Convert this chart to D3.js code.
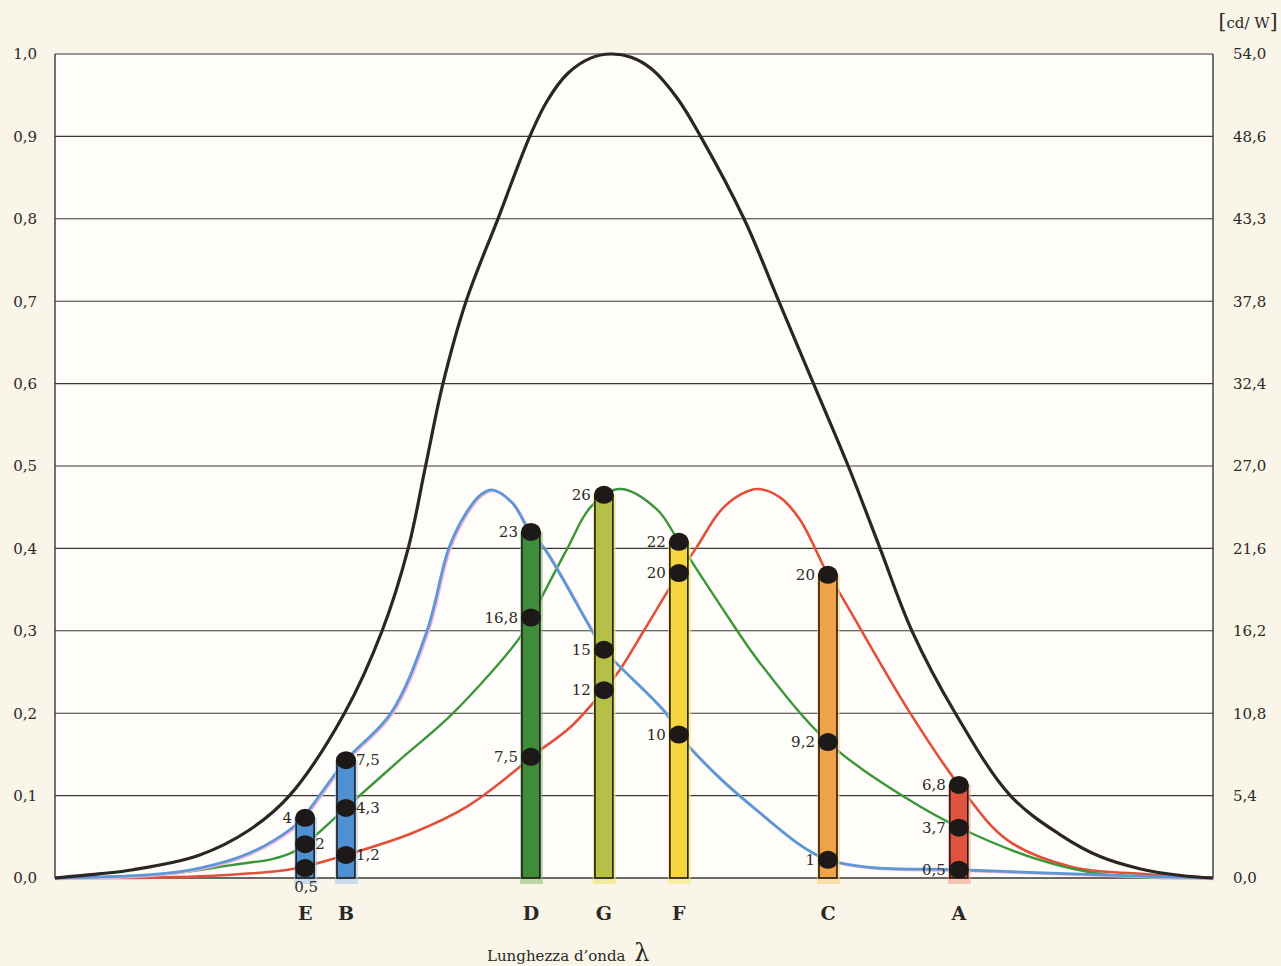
<!DOCTYPE html>
<html>
<head>
<meta charset="utf-8">
<script src="https://cdn.jsdelivr.net/npm/d3@7"></script>
<style>
    body { margin: 0; background: #f9f5e8; }
    svg { display: block; }
</style>
</head>
<body>
<div id="chart"></div>
<script>
// curves: wavelength (nm, approx) and relative value read from the plate
const blackL = [380, 395, 407, 430, 447, 461, 480, 493, 502, 508, 514, 522, 533, 544, 550, 557, 565, 572, 579, 586, 595, 603, 618, 630, 642, 654, 665, 676, 691, 710, 727, 741, 755, 769, 780];
const blackV = [0, .005, .01, .028, .058, .10, .20, .30, .40, .50, .60, .70, .80, .90, .943, .976, .995, 1.0, .996, .982, .946, .90, .80, .70, .60, .50, .40, .30, .20, .10, .053, .026, .011, .003, 0];

const blueL = [380, 413, 430, 447, 462, 466, 480.5, 496, 508.5, 516, 522, 527, 531, 538, 544, 549, 565.5, 569.6, 591, 595.5, 610, 623.5, 635, 642, 647, 661.5, 692, 724, 758, 780];
const blueV = [0, .004, .012, .03, .061, .075, .143, .2, .3, .4, .443, .465, .471, .455, .42, .4, .3, .277, .2, .174, .12, .079, .046, .03, .022, .013, .01, .006, .002, 0];

const greenL = [380, 419, 441.5, 455, 462, 466.4, 480.5, 499, 517.5, 540.6, 544.4, 557, 565, 575, 588, 595.5, 604, 610, 623.5, 647, 674, 692.5, 720, 743, 780];
const greenV = [0, .005, .016, .023, .031, .041, .085, .143, .2, .292, .316, .4, .45, .472, .447, .408, .362, .33, .261, .165, .097, .061, .022, .004, 0];

const redL = [380, 430, 462, 480.5, 503.7, 522, 540.6, 544.4, 558, 569.6, 575, 583.4, 595.5, 601.4, 609.7, 616.6, 622.8, 630.4, 637.3, 647, 651, 674, 692.2, 709, 731.6, 755, 780];
const redV = [0, .002, .011, .028, .055, .086, .135, .147, .183, .228, .252, .30, .37, .40, .445, .465, .472, .462, .435, .368, .346, .208, .113, .046, .013, .005, 0];

// columns (lamps), their wavelength and the readings marked on them
const barNames = ['E', 'B', 'D', 'G', 'F', 'C', 'A'];
const barL = [466.4, 480.5, 544.4, 569.6, 595.5, 647.0, 692.2];
const dotValues = [
    [.073, .041, .012],
    [.143, .085, .028],
    [.42, .316, .147],
    [.465, .277, .228],
    [.408, .37, .174],
    [.368, .165, .022],
    [.113, .061, .01]
];
const dotLabels = [
    ['4', '2', '0,5'],
    ['7,5', '4,3', '1,2'],
    ['23', '16,8', '7,5'],
    ['26', '15', '12'],
    ['22', '20', '10'],
    ['20', '9,2', '1'],
    ['6,8', '3,7', '0,5']
];

// axis ticks
const leftTicks = [0, .1, .2, .3, .4, .5, .6, .7, .8, .9, 1.0];
const rightLabels = ['0,0', '5,4', '10,8', '16,2', '21,6', '27,0', '32,4', '37,8', '43,3', '48,6', '54,0'];

const svgWidth = 1281, svgHeight = 966;
const margin = { top: 54, right: 68, bottom: 88, left: 55 };
const width = svgWidth - margin.left - margin.right;
const height = svgHeight - margin.top - margin.bottom;
const serif = '"DejaVu Serif", "Liberation Serif", serif';

const svg = d3.select('#chart').append('svg')
    .attr('width', svgWidth)
    .attr('height', svgHeight);

const g = svg.append('g')
    .attr('transform', `translate(${margin.left}, ${margin.top})`);

const x = d3.scaleLinear().domain([380, 780]).range([0, width]);
const y = d3.scaleLinear().domain([0, 1]).range([height, 0]);

// plot background
g.append('rect')
    .attr('width', width)
    .attr('height', height)
    .attr('fill', '#fefdf9');

// horizontal rules
g.selectAll('.grid')
    .data(leftTicks)
    .enter().append('line')
    .attr('class', 'grid')
    .attr('x1', 0).attr('x2', width)
    .attr('y1', d => y(d)).attr('y2', d => y(d))
    .style('stroke', '#3a3735')
    .style('stroke-width', d => d === 0 ? 1.6 : 1.1);

// side frame
g.append('line').attr('x1', 0).attr('x2', 0).attr('y1', 0).attr('y2', height)
    .style('stroke', '#3a3735').style('stroke-width', 1.4);
g.append('line').attr('x1', width).attr('x2', width).attr('y1', 0).attr('y2', height)
    .style('stroke', '#3a3735').style('stroke-width', 1.4);

// left axis
const leftAxis = g.append('g')
    .call(d3.axisLeft(y).tickValues(leftTicks).tickSize(0).tickPadding(18)
        .tickFormat(d => d3.format('.1f')(d).replace('.', ',')));
leftAxis.select('.domain').remove();
leftAxis.selectAll('text')
    .style('font-family', serif).style('font-size', '15px').style('fill', '#2b2826');

// right axis in cd/W
const rightAxis = g.append('g')
    .attr('transform', `translate(${width}, 0)`)
    .call(d3.axisRight(y).tickValues(leftTicks).tickSize(0).tickPadding(20)
        .tickFormat((d, i) => rightLabels[i]));
rightAxis.select('.domain').remove();
rightAxis.selectAll('text')
    .style('font-family', serif).style('font-size', '15px').style('fill', '#2b2826');

const unit = svg.append('text')
    .attr('x', 1248).attr('y', 28)
    .attr('text-anchor', 'middle')
    .style('font-family', serif).style('font-size', '15px').style('fill', '#2b2826');
unit.append('tspan').style('font-size', '20px').text('[');
unit.append('tspan').text('cd/ W');
unit.append('tspan').style('font-size', '20px').text(']');

// curves
const line = d3.line()
    .x(d => x(d[0]))
    .y(d => y(d[1]))
    .curve(d3.curveCatmullRom.alpha(0.5));

const curves = [
    { l: redL, v: redV, color: '#e2503a', w: 2.6 },
    { l: greenL, v: greenV, color: '#3b963a', w: 2.4 },
    { l: blueL, v: blueV, color: '#5b98d6', w: 2.8, fringe: '#f2b2d6' },
    { l: blackL, v: blackV, color: '#2a2624', w: 3.2 }
];
curves.forEach(c => {
    const pts = c.l.map((l, i) => [l, c.v[i]]);
    if (c.fringe) {
        g.append('path').datum(pts)
            .attr('transform', 'translate(1.5, 1)')
            .attr('d', line)
            .style('fill', 'none').style('stroke', c.fringe).style('stroke-width', 2.4);
    }
    g.append('path').datum(pts)
        .attr('d', line)
        .style('fill', 'none')
        .style('stroke', c.color)
        .style('stroke-width', c.w)
        .style('stroke-linejoin', 'round');
});

// columns
const barColors = ['#4f90d0', '#4f90d0', '#3f8c3b', '#b6bf46', '#f6d53e', '#f0a249', '#e0533f'];
const glowColors = ['#a9c9ea', '#a9c9ea', '#8fc07a', '#ece56a', '#faea70', '#f8d17a', '#f3a58c'];
const barW = 18;

const bars = g.selectAll('.bar')
    .data(barNames)
    .enter().append('g')
    .attr('class', 'bar')
    .attr('transform', (d, i) => `translate(${x(barL[i])}, 0)`);

bars.append('rect')
    .attr('x', -barW / 2 - 2)
    .attr('width', barW + 5)
    .attr('y', (d, i) => y(dotValues[i][0]))
    .attr('height', (d, i) => height - y(dotValues[i][0]) + 6)
    .style('fill', (d, i) => glowColors[i])
    .style('opacity', 0.6);

bars.append('rect')
    .attr('x', -barW / 2)
    .attr('width', barW)
    .attr('y', (d, i) => y(dotValues[i][0]))
    .attr('height', (d, i) => height - y(dotValues[i][0]))
    .style('fill', (d, i) => barColors[i])
    .style('stroke', '#1f1b1a')
    .style('stroke-width', 1.6);

// black dots and their readings
const labelSide = { E: ['l', 'r', 'b'], B: ['r', 'r', 'r'] };
bars.each(function(name, i) {
    const bar = d3.select(this);
    dotValues[i].forEach((v, j) => {
        bar.append('ellipse')
            .attr('cx', 0).attr('cy', y(v))
            .attr('rx', 10).attr('ry', 9)
            .style('fill', '#1d1919');
        const side = labelSide[name] ? labelSide[name][j] : 'l';
        const t = bar.append('text')
            .style('font-family', serif).style('font-size', '15px').style('fill', '#2b2826')
            .text(dotLabels[i][j]);
        if (side === 'l') t.attr('x', -13).attr('y', y(v) + 5).attr('text-anchor', 'end');
        else if (side === 'r') t.attr('x', 10).attr('y', y(v) + 5).attr('text-anchor', 'start');
        else t.attr('x', 1).attr('y', height + 14).attr('text-anchor', 'middle');
    });
    bar.append('text')
        .attr('x', 0).attr('y', height + 42)
        .attr('text-anchor', 'middle')
        .style('font-family', serif).style('font-size', '19px').style('font-weight', 'bold')
        .style('fill', '#2b2826')
        .text(name);
});

// x title
const title = svg.append('text')
    .attr('x', 487).attr('y', 961)
    .style('font-family', serif).style('font-size', '15px').style('fill', '#2b2826');
title.append('tspan').text('Lunghezza d\u2019onda ');
title.append('tspan').style('font-size', '24px').attr('dx', 4).text('\u03bb');
</script>
</body>
</html>
